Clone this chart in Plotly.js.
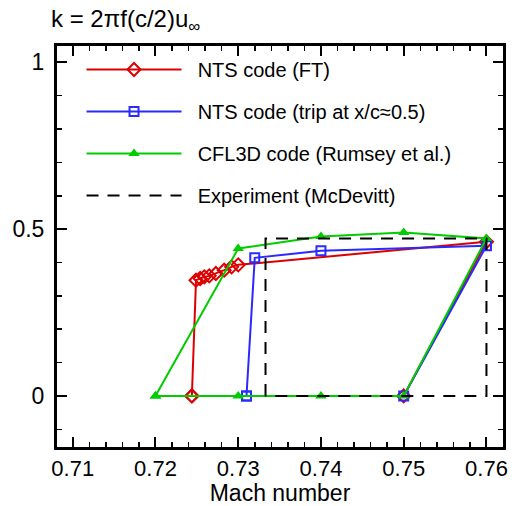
<!DOCTYPE html>
<html>
<head>
<meta charset="utf-8">
<script src="https://cdn.plot.ly/plotly-3.0.1.min.js"></script>
<style>body{margin:0;padding:0;background:#fff}#chart{width:512px;height:506px}</style>
</head>
<body>
<div id="chart"></div>
<script>
// NTS code (FT)
const redX = [0.7244, 0.7249, 0.7254, 0.7259, 0.7265, 0.7273, 0.7283, 0.7292, 0.7300, 0.7600, 0.7500, 0.7244];
const redY = [0, 0.347, 0.352, 0.357, 0.360, 0.367, 0.377, 0.387, 0.393, 0.462, 0, 0];
// NTS code (trip at x/c≈0.5)
const blueX = [0.7310, 0.7320, 0.7400, 0.7600, 0.7500, 0.7310];
const blueY = [0, 0.414, 0.435, 0.450, 0, 0];
// CFL3D code (Rumsey et al.)
const greenX = [0.72, 0.73, 0.74, 0.75, 0.76, 0.75, 0.74, 0.73, 0.72];
const greenY = [0, 0.442, 0.478, 0.490, 0.472, 0, 0, 0, 0];
// Experiment (McDevitt)
const expX = [0.7333, 0.7333, 0.7600, 0.7600, 0.7333];
const expY = [0, 0.472, 0.472, 0, 0];

const names = ['NTS code (FT)', 'NTS code (trip at x/c\u22480.5)', 'CFL3D code (Rumsey et al.)', 'Experiment (McDevitt)'];
const xTickVals = [0.71, 0.72, 0.73, 0.74, 0.75, 0.76];
const xTickText = ['0.71', '0.72', '0.73', '0.74', '0.75', '0.76'];
const yTickVals = [0, 0.5, 1];
const yTickText = ['0', '0.5', '1'];

const FONT = 'Liberation Sans, Arial, sans-serif';
const PAD = '\u00a0\u00a0';

const traces = [
  {x: redX, y: redY, name: PAD + names[0], legendgroup: 'a', mode: 'lines+markers',
   line: {color: '#dd0000', width: 2},
   marker: {symbol: 'diamond-open', size: 10, color: '#dd0000', line: {width: 2}}},
  {x: blueX, y: blueY, name: PAD + names[1], legendgroup: 'b', mode: 'lines+markers',
   line: {color: '#2a2aff', width: 2},
   marker: {symbol: 'square-open', size: 9, color: '#2a2aff', line: {width: 2}}},
  {x: greenX, y: greenY, name: PAD + names[2], legendgroup: 'c', mode: 'lines+markers',
   line: {color: '#00cc00', width: 2},
   marker: {symbol: 'triangle-up', size: 10, color: '#00cc00'}},
  {x: expX, y: expY, name: PAD + names[3], legendgroup: 'd', mode: 'lines',
   line: {color: '#000000', width: 2, dash: '12px,9px'}}
];

const layout = {
  width: 512, height: 506,
  margin: {l: 57, r: 9, t: 46, b: 59},
  paper_bgcolor: '#fff', plot_bgcolor: '#fff',
  font: {family: FONT, size: 20, color: '#000'},
  title: {text: 'k = 2\u03c0f(c/2)u<sub>\u221e</sub>', xref: 'container', yref: 'container',
          x: 51/512, xanchor: 'left', y: 1 - 19/506, yanchor: 'middle',
          font: {family: FONT, size: 24, color: '#000'}},
  showlegend: true,
  legend: {x: 0.055, y: 0.99, xanchor: 'left', yanchor: 'top', bgcolor: 'rgba(0,0,0,0)',
           font: {family: FONT, size: 20, color: '#000'}, itemwidth: 95,
           tracegroupgap: 13, traceorder: 'grouped'},
  xaxis: {range: [0.7081, 0.7620], tickmode: 'array', tickvals: xTickVals, ticktext: xTickText,
          ticks: 'inside', ticklen: 10, tickwidth: 2, tickcolor: '#000',
          minor: {dtick: 0.002, tick0: 0.71, ticks: 'inside', ticklen: 5, tickwidth: 1.5, tickcolor: '#000'},
          showline: true, linewidth: 3, linecolor: '#000', mirror: 'allticks',
          showgrid: false, zeroline: false,
          tickfont: {family: FONT, size: 22},
          title: {text: 'Mach number', font: {family: FONT, size: 23}, standoff: 4}},
  yaxis: {range: [-0.153, 1.049], tickmode: 'array', tickvals: yTickVals, ticktext: yTickText,
          ticks: 'inside', ticklen: 10, tickwidth: 2, tickcolor: '#000', ticklabelstandoff: 5,
          minor: {dtick: 0.1, tick0: 0, ticks: 'inside', ticklen: 5, tickwidth: 1.5, tickcolor: '#000'},
          showline: true, linewidth: 3, linecolor: '#000', mirror: 'allticks',
          showgrid: false, zeroline: false,
          tickfont: {family: FONT, size: 23}}
};

Plotly.newPlot('chart', traces, layout, {displayModeBar: false, staticPlot: true});
</script>
</body>
</html>
